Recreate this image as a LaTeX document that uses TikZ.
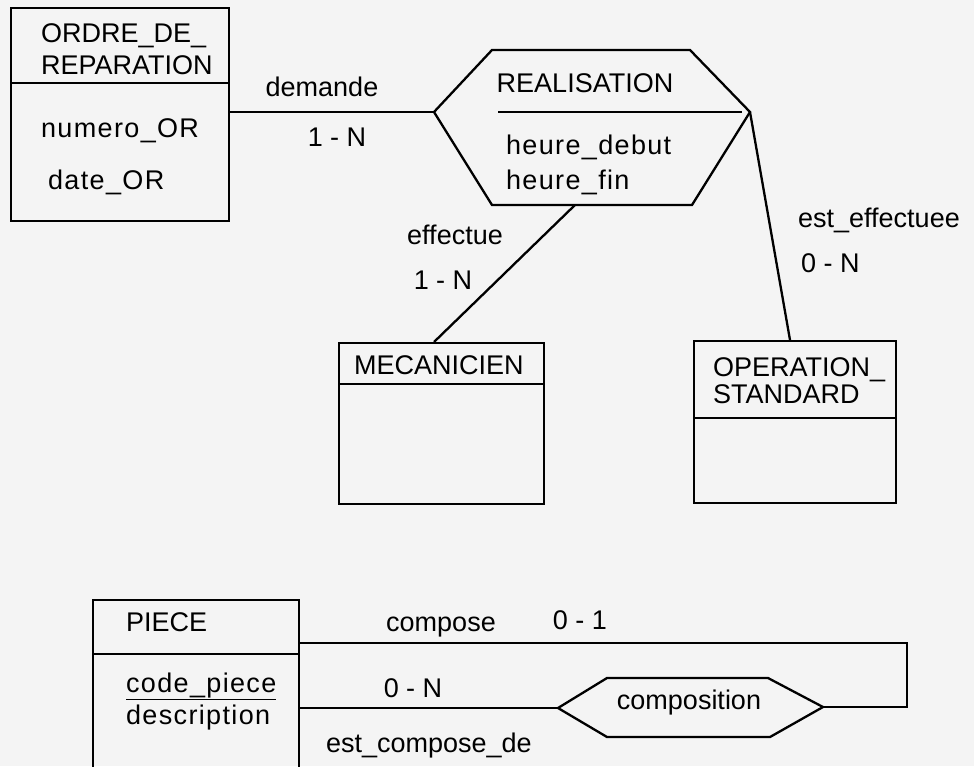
\documentclass[tikz,border=0pt]{standalone}
\usepackage{fontspec}
\setmainfont{Liberation Sans}
\newfontfamily\attrfont[LetterSpace=5]{Liberation Sans}
\definecolor{paper}{RGB}{244,244,244}
\begin{document}
\begin{tikzpicture}[x=1pt,y=-1pt,
  line width=2.3pt, line join=miter,
  lbl/.style={inner sep=0pt, text height=19pt, text depth=0pt, font=\fontsize{27}{32}\selectfont},
  lblw/.style={lbl, anchor=west},
  attr/.style={lblw, font=\fontsize{27}{32}\selectfont\attrfont},
  ent/.style={draw, minimum width=0pt, minimum height=0pt, inner sep=0pt, anchor=north west}
]
\fill[paper] (0,0) rectangle (974,766);
\useasboundingbox (0,0) rectangle (974,766);

% ---------- ORDRE_DE_REPARATION ----------
\node[ent, minimum width=218pt, minimum height=213pt] (ordre) at (10,7) {};
\draw (ordre.west |- 0,83) -- (ordre.east |- 0,83);
\node[lblw] (t1) at (40,33) {ORDRE\_DE\_};
\node[lblw] (t2) at (40,65) {REPARATION};
\node[attr] (t3) at (40,128) {numero\_OR};
\node[attr] (t4) at (47,180) {date\_OR};

% ---------- REALISATION ----------
\coordinate (rL) at (434,112);
\coordinate (rTL) at (492,50);
\coordinate (rTR) at (690,50);
\coordinate (rR) at (750,112);
\coordinate (rBR) at (692,205);
\coordinate (rBL) at (492,205);
\draw (rL) -- (rTL) -- (rTR) -- (rR) -- (rBR) -- (rBL) -- cycle;
\draw (498,112) -- (742,112);
\node[lbl] (real) at (585,83) {REALISATION};
\node[attr] (hd) at (505,145) {heure\_debut};
\node[attr] (hf) at (505,180) {heure\_fin};

% ---------- MECANICIEN ----------
\node[ent, minimum width=205pt, minimum height=161pt] (meca) at (338,342) {};
\draw (meca.west |- 0,384) -- (meca.east |- 0,384);
\node[lblw] (tm) at (353,365) {MECANICIEN};

% ---------- OPERATION_STANDARD ----------
\node[ent, minimum width=202pt, minimum height=162pt] (oper) at (693,340) {};
\draw (oper.west |- 0,418) -- (oper.east |- 0,418);
\node[lblw] (to1) at (712,367) {OPERATION\_};
\node[lblw] (to2) at (712,394) {STANDARD};

% ---------- connectors (top) ----------
\draw (ordre.east |- rL) -- (rL);
\node[lbl] (dem) at (322,87) {demande};
\node[lbl] (demc) at (337,137) {1 - N};

\coordinate (effA) at (575,205);
\coordinate (effB) at (434,342);
\draw (effA) -- (effB);
\node[lbl] (eff) at (455,235) {effectue};
\node[lbl] (effc) at (443,280) {1 - N};

\coordinate (estB) at (790,340);
\draw (rR) -- (estB);
\node[lblw] (est) at (797,218) {est\_effectuee};
\node[lblw] (estc) at (800,263) {0 - N};

% ---------- PIECE ----------
\coordinate (pBL) at (93,772);
\coordinate (pTL) at (93,600);
\coordinate (pTR) at (299,600);
\coordinate (pBR) at (299,772);
\draw (pBL) -- (pTL) -- (pTR) -- (pBR);
\draw (93,654) -- (299,654);
\node[lblw] (tp) at (125,622) {PIECE};
\node[attr] (cp) at (125,683) {\underline{code\_piece}};
\node[attr] (desc) at (125,715) {description};

% ---------- composition ----------
\coordinate (cL) at (558,708);
\coordinate (cTL) at (607,678);
\coordinate (cTR) at (768,678);
\coordinate (cR) at (823,707);
\coordinate (cBR) at (770,737);
\coordinate (cBL) at (607,737);
\draw (cL) -- (cTL) -- (cTR) -- (cR) -- (cBR) -- (cBL) -- cycle;
\node[lbl] (comp) at (689,700) {composition};

\draw (299,643) -- (907,643) -- (907,707) -- (cR);
\draw (299,708) -- (cL);
\node[lbl] (lc) at (441,622) {compose};
\node[lbl] (lc1) at (580,620) {0 - 1};
\node[lbl] (lcn) at (413,688) {0 - N};
\node[lblw] (lecd) at (325,743) {est\_compose\_de};
\end{tikzpicture}
\end{document}
